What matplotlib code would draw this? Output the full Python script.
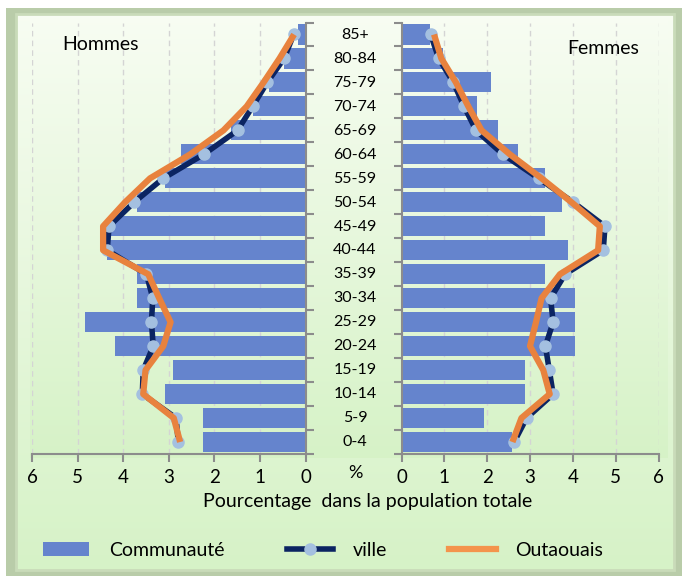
import numpy as np
import matplotlib.pyplot as plt
from matplotlib.patches import Rectangle
from matplotlib.lines import Line2D
from matplotlib.patches import Patch

# Data (% of total population), youngest to oldest
ages = ["0-4", "5-9", "10-14", "15-19", "20-24", "25-29", "30-34", "35-39",
        "40-44", "45-49", "50-54", "55-59", "60-64", "65-69", "70-74",
        "75-79", "80-84", "85+"]

hommes_communaute = [2.24, 2.24, 3.08, 2.90, 4.18, 4.84, 3.69, 3.69, 4.35,
                     4.31, 3.69, 3.08, 2.73, 1.63, 1.16, 0.81, 0.48, 0.17]
hommes_ville = [2.79, 2.84, 3.58, 3.56, 3.34, 3.38, 3.35, 3.49, 4.35,
                4.31, 3.76, 3.12, 2.23, 1.49, 1.16, 0.84, 0.47, 0.26]
hommes_outaouais = [2.75, 2.89, 3.56, 3.51, 3.12, 2.96, 3.21, 3.45, 4.44,
                    4.44, 3.96, 3.41, 2.53, 1.80, 1.29, 0.92, 0.57, 0.25]

femmes_communaute = [2.57, 1.93, 2.89, 2.89, 4.06, 4.06, 4.06, 3.36, 3.89,
                     3.36, 3.74, 3.36, 2.73, 2.25, 1.77, 2.09, 0.97, 0.66]
femmes_ville = [2.63, 2.92, 3.54, 3.45, 3.36, 3.54, 3.48, 3.82, 4.71,
                4.75, 4.01, 3.20, 2.37, 1.74, 1.46, 1.21, 0.87, 0.68]
femmes_outaouais = [2.59, 2.80, 3.46, 3.31, 3.00, 3.14, 3.27, 3.70, 4.59,
                    4.63, 3.97, 3.27, 2.53, 1.87, 1.56, 1.27, 0.93, 0.76]

xticks = [0, 1, 2, 3, 4, 5, 6]

BAR = "#6584cd"
NAVY = "#0b2462"
MARK = "#a4c0e0"
ORANGE = "#e8823e"
FONT = "Lato"

W, H = 689, 582
fig = plt.figure(figsize=(W / 100, H / 100), dpi=100)
fig.patch.set_facecolor("white")


def fx(px):
    return px / W


def fy(py):
    return 1 - py / H


# outer frame with soft green gradient
bg = fig.add_axes([0, 0, 1, 1], zorder=-10)
bg.set_xlim(0, W)
bg.set_ylim(H, 0)
bg.axis("off")
grad = np.linspace(0, 1, 256).reshape(-1, 1)
c_top = np.array([0.97, 0.99, 0.95])
c_bot = np.array([0.84, 0.95, 0.78])
img = c_top + (c_bot - c_top) * grad[:, :, None]
bg.add_patch(Rectangle((6, 8), 676, 568, facecolor="#b9cca9", edgecolor="none"))
bg.imshow(img, extent=(16, 674, 570, 14), aspect="auto", zorder=1)
bg.add_patch(Rectangle((16, 14), 658, 556, fill=False, edgecolor="#c9dbb9", lw=2, zorder=2))
bg.imshow(img, extent=(30, 668, 458, 20), aspect="auto", zorder=2)

y = np.arange(len(ages))
x0, x1, y0, y1 = 32, 305.5, 22.5, 454
ax_l = fig.add_axes([fx(x0), fy(y1), fx(x1 - x0), (y1 - y0) / H])
x0, x1 = 401.5, 658.5
ax_r = fig.add_axes([fx(x0), fy(y1), fx(x1 - x0), (y1 - y0) / H])

for ax, comm, ville, outa in [(ax_l, hommes_communaute, hommes_ville, hommes_outaouais),
                              (ax_r, femmes_communaute, femmes_ville, femmes_outaouais)]:
    ax.set_facecolor("none")
    ax.barh(y, comm, height=0.84, color=BAR, zorder=2)
    ax.plot(ville, y, color=NAVY, lw=4, marker="o", ms=8, mfc=MARK, mec=MARK, zorder=3)
    ax.plot(outa, y, color=ORANGE, lw=4.5, solid_capstyle="butt", zorder=4)
    ax.set_xlim(0, 6)
    ax.set_ylim(-0.5, len(ages) - 0.5)
    ax.set_xticks(xticks)
    ax.set_xticklabels([str(t) for t in xticks], fontsize=13.5, family=FONT)
    ax.set_yticks(np.arange(len(ages) + 1) - 0.5)
    ax.set_yticklabels([])
    ax.grid(axis="x", color="#d4d4d4", ls=(0, (4, 3)), lw=1, zorder=0)
    for s in ["top", "left", "right"]:
        ax.spines[s].set_visible(False)
    ax.spines["bottom"].set_color("#8c8c8c")
    ax.spines["bottom"].set_linewidth(1.5)
    ax.tick_params(axis="x", colors="#8c8c8c", length=6, width=1.5, labelcolor="black", pad=5)
    ax.tick_params(axis="y", colors="#8c8c8c", length=6, width=1.5)

ax_l.invert_xaxis()
ax_l.yaxis.tick_right()
ax_l.spines["right"].set_visible(True)
ax_l.spines["right"].set_color("#8c8c8c")
ax_l.spines["right"].set_linewidth(1.5)
ax_r.spines["left"].set_visible(True)
ax_r.spines["left"].set_color("#8c8c8c")
ax_r.spines["left"].set_linewidth(1.5)

# age labels in the middle
for i, a in enumerate(ages):
    fig.text(fx(355), fy(442 - i * 23.94), a, ha="center", va="center",
             fontsize=11.5, family=FONT)

fig.text(fx(101), fy(45), "Hommes", ha="center", va="center", fontsize=14, family=FONT)
fig.text(fx(603), fy(48), "Femmes", ha="center", va="center", fontsize=14, family=FONT)
fig.text(fx(355), fy(473), "%", ha="center", va="center", fontsize=13, family=FONT)
fig.text(fx(368), fy(501), "Pourcentage  dans la population totale", ha="center",
         va="center", fontsize=14, family=FONT)

handles = [Patch(facecolor=BAR, edgecolor="none"),
           Line2D([], [], color=NAVY, lw=4, marker="o", ms=8, mfc=MARK, mec=MARK),
           Line2D([], [], color="#f4944c", lw=4.5)]
fig.legend(handles, ["Communauté", "ville", "Outaouais"], loc="center",
           bbox_to_anchor=(fx(323), fy(550)), ncol=3, frameon=False,
           prop={"family": FONT, "size": 14}, columnspacing=3.2, handlelength=2.4,
           handletextpad=1.0)

fig.savefig("out.png", dpi=100)
